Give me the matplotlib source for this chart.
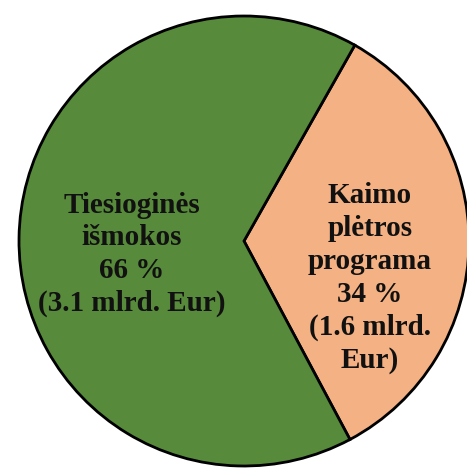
import matplotlib
matplotlib.use("Agg")
import matplotlib.pyplot as plt

# slices, in drawing order (clockwise from the top-right boundary)
labels = ["Kaimo\nplėtros\nprograma\n34 %\n(1.6 mlrd.\nEur)",
          "Tiesioginės\nišmokos\n66 %\n(3.1 mlrd. Eur)"]
shares = [34, 66]
colors = ["#F4B183", "#578A3B"]
label_pos = [(0.56, -0.165), (-0.50, -0.06)]

plt.rcParams["font.family"] = ["Liberation Serif", "DejaVu Serif"]

W, H = 467, 470
fig = plt.figure(figsize=(W / 100, H / 100), dpi=100)
# circle spans x 19..469 px, y 16..466 px from the top
ax = fig.add_axes([19 / W, 4 / H, 450 / W, 450 / H])
ax.axis("off")

ax.pie(shares, colors=colors, startangle=60.5, counterclock=False,
       radius=1, frame=False,
       wedgeprops=dict(edgecolor="black", linewidth=2.0, linestyle="-"))
ax.set_xlim(-1, 1); ax.set_ylim(-1, 1)

for txt, (x, y) in zip(labels, label_pos):
    ax.text(x, y, txt, ha="center", va="center", fontsize=21,
            fontweight="bold", linespacing=1.28, color="#111111")

fig.savefig("out.png", dpi=100)
